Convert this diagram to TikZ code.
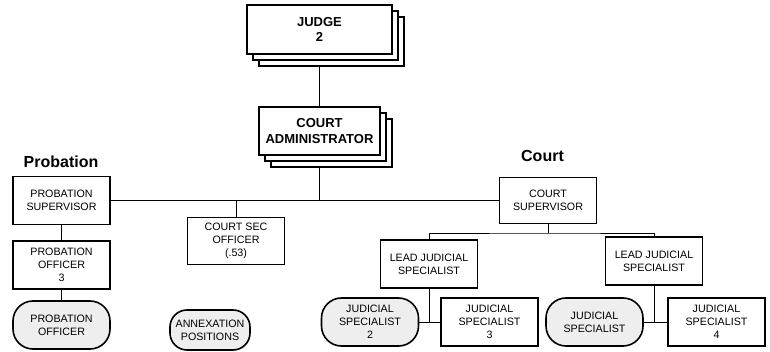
\documentclass[tikz,border=0pt]{standalone}
\usepackage{fontspec}
\setmainfont{Liberation Sans}
\usetikzlibrary{shadows,backgrounds}
\definecolor{softgray}{RGB}{238,238,238}
\tikzset{
  box/.style={draw, line width=1.6pt, fill=white, minimum width=97pt,
    minimum height=48pt, align=center, inner sep=0pt,
    font=\fontsize{10.7}{13}\selectfont},
  roundbox/.style={box, rounded corners=20pt, fill=softgray},
  headbox/.style={box, line width=1.4pt,
    font=\fontsize{13}{15.5}\selectfont\bfseries,
    copy shadow={shadow xshift=12pt, shadow yshift=-12pt, line width=1.1pt},
    copy shadow={shadow xshift=6pt, shadow yshift=-6pt, line width=1.1pt}},
  grouptitle/.style={font=\fontsize{16}{19}\selectfont\bfseries},
  wire/.style={line width=0.9pt}
}
\begin{document}
\begin{tikzpicture}[x=1pt, y=-1pt]
\useasboundingbox (0,0) rectangle (770,352);

% leadership
\node[headbox, minimum width=145pt, minimum height=49pt] (judge) at (319.5,29.5) {JUDGE\\2};
\node[headbox, minimum width=121pt, minimum height=48pt] (admin) at (319.5,131) {COURT\\ADMINISTRATOR};

% probation branch
\node[grouptitle] (ptitle) at (61,162) {Probation};
\node[box] (psup) at (61.5,200.5) {PROBATION\\SUPERVISOR};
\node[box] (poff) at (61.5,265) {PROBATION\\OFFICER\\3};
\node[roundbox] (pnew) at (61.5,325) {PROBATION\\OFFICER};

% staff attached to the administrator
\node[box, minimum height=47pt] (csec) at (236,241) {COURT SEC\\OFFICER\\(.53)};
\node[roundbox, minimum width=80pt, minimum height=40pt, rounded corners=17pt] (annex) at (210,330) {ANNEXATION\\POSITIONS};

% court branch
\node[grouptitle] (ctitle) at (542.5,156) {Court};
\node[box, minimum height=46pt] (csup) at (548,200.5) {COURT\\SUPERVISOR};
\node[box] (lead1) at (429,264) {LEAD JUDICIAL\\SPECIALIST};
\node[box] (lead2) at (654,261) {LEAD JUDICIAL\\SPECIALIST};
\node[roundbox] (js2) at (370,322) {JUDICIAL\\SPECIALIST\\2};
\node[box] (js3) at (489.5,322) {JUDICIAL\\SPECIALIST\\3};
\node[roundbox] (jsa) at (594.5,322) {JUDICIAL\\SPECIALIST};
\node[box] (js4) at (716.5,322) {JUDICIAL\\SPECIALIST\\4};

% reporting lines, kept behind the boxes
\coordinate (hub) at (admin |- psup);
\coordinate (split) at (548,233);
\begin{scope}[on background layer]
  \draw[wire] (judge) -- (admin);
  \draw[wire] (admin) -- (hub);
  \draw[wire] (psup) -- (csup);
  \draw[wire] (csec.north) -- (csec.north |- psup);
  \draw[wire] (psup) -- (poff);
  \draw[wire] (poff) -- (pnew);
  \draw[wire] (csup) -- (split);
  \draw[wire] (lead1.north) |- (split) -| (lead2.north);
  \draw[wire] (lead1) -- (lead1 |- js3);
  \draw[wire] (js2) -- (js3);
  \draw[wire] (lead2) -- (lead2 |- js4);
  \draw[wire] (jsa) -- (js4);
\end{scope}
\end{tikzpicture}
\end{document}
